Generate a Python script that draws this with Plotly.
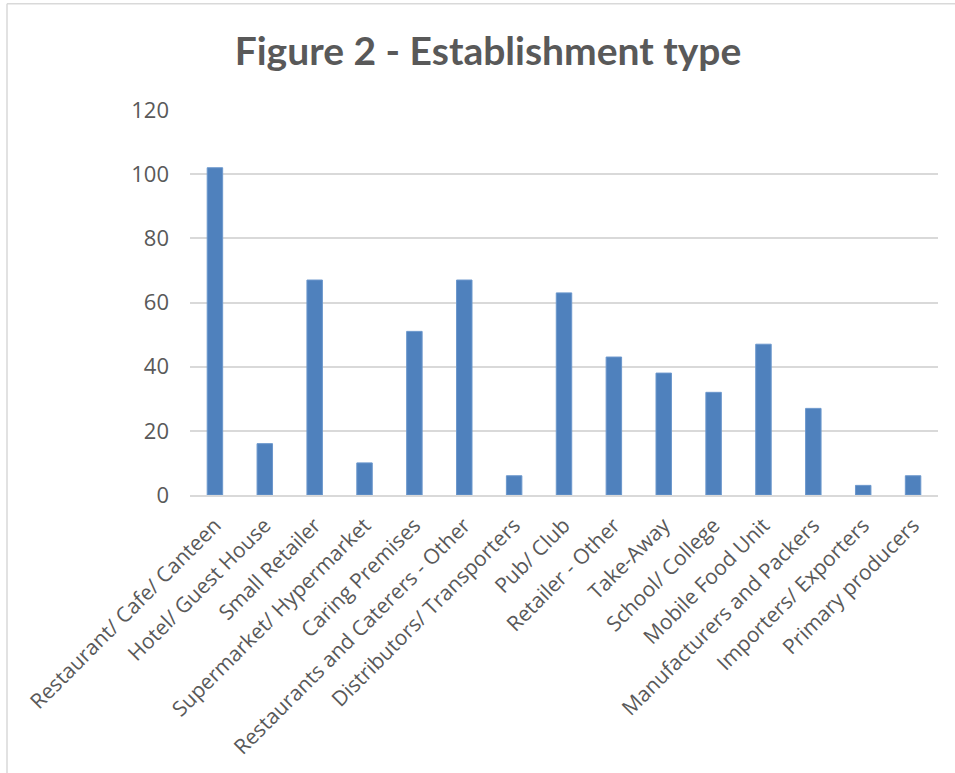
import plotly.graph_objects as go

categories = [
    "Restaurant/ Cafe/ Canteen", "Hotel/ Guest House", "Small Retailer",
    "Supermarket/ Hypermarket", "Caring Premises", "Restaurants and Caterers - Other",
    "Distributors/ Transporters", "Pub/ Club", "Retailer - Other", "Take-Away",
    "School/ College", "Mobile Food Unit", "Manufacturers and Packers",
    "Importers/ Exporters", "Primary producers",
]
values = [102, 16, 67, 10, 51, 67, 6, 63, 43, 38, 32, 47, 27, 3, 6]
y_ticks = [0, 20, 40, 60, 80, 100, 120]

W, H = 955, 773
L, R, T, B = 190, 17, 109.5, 278
pw, ph = W - L - R, H - T - B

fig = go.Figure(go.Bar(
    x=categories, y=values, width=0.31,
    marker=dict(color="#4F81BD", line=dict(color="#6B97CC", width=1)),
))

def px_x(x):
    return (x - L) / pw

def px_y(y):
    return (H - B - y) / ph

fig.update_layout(
    width=W, height=H,
    margin=dict(l=L, r=R, t=T, b=B, autoexpand=False),
    paper_bgcolor="white", plot_bgcolor="white",
    showlegend=False,
    bargap=0.69,
    title=dict(text="<b>Figure 2 - Establishment type</b>", x=(488) / W, xanchor="center",
               y=1 - 51 / H, yanchor="middle",
               font=dict(family="Lato", size=39, color="#595959")),
    font=dict(family="Open Sans", color="#595959"),
    xaxis=dict(tickangle=-45, tickfont=dict(size=21, color="#595959"),
               showgrid=False, showline=True, linecolor="#D9D9D9", linewidth=1.5,
               ticks="", ticklabelstandoff=8),
    yaxis=dict(range=[0, 120], tickvals=y_ticks, tickfont=dict(size=22, color="#595959"),
               showgrid=True, gridcolor="#D9D9D9", gridwidth=1.5, zeroline=False,
               showline=False, ticks="", ticklabelstandoff=20),
    shapes=[
        dict(type="line", xref="paper", yref="paper", x0=px_x(7), x1=px_x(W + 5),
             y0=px_y(3), y1=px_y(3), line=dict(color="#D9D9D9", width=1.5)),
        dict(type="line", xref="paper", yref="paper", x0=px_x(7), x1=px_x(7),
             y0=px_y(3), y1=px_y(H + 5), line=dict(color="#D9D9D9", width=1.5)),
    ],
)

fig.write_html("out.html")
